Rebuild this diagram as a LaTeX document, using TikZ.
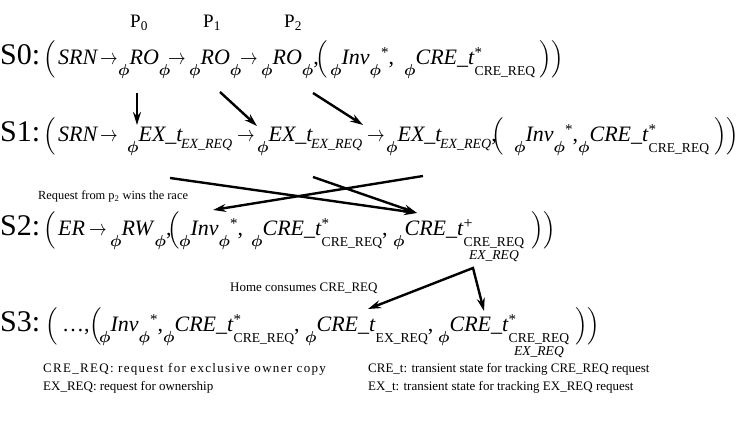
\documentclass[tikz,border=0pt]{standalone}
\usepackage{fix-cm}
\usepackage{amsmath}
\usepackage{amsbsy}
\usepackage{graphicx}
\usepackage{fontspec}
\setmainfont{Liberation Serif}
\newfontfamily\spreadfont[LetterSpace=10]{Liberation Serif}
\usetikzlibrary{arrows.meta}

% lowered phi, raised star, subscripts
\newcommand{\dph}{\raisebox{-11pt}{\fontsize{16}{16}\selectfont$\boldsymbol{\phi}$}}
\newcommand{\sstar}{\raisebox{7pt}{\fontsize{15}{15}\selectfont *}}
\newcommand{\ssub}[1]{\raisebox{-11pt}{\fontsize{13.6}{15}\selectfont #1}}
\newcommand{\isub}[1]{\kern-2pt\raisebox{-7pt}{\fontsize{14}{15}\selectfont\itshape #1}}
\newcommand{\dsub}[2]{\raisebox{-11pt}{\fontsize{13.6}{13}\selectfont\begin{tabular}[t]{@{}c@{}}#1\\ \itshape #2\end{tabular}}}
\newcommand{\tto}{\scalebox{0.8}[1]{$\rightarrow$}}
\newcommand{\bopen}{\raisebox{0pt}[24pt][12pt]{$\nulldelimiterspace=0pt\left(\vrule height 21pt depth 13pt width 0pt\right.$}}
\newcommand{\bclose}{\raisebox{0pt}[24pt][12pt]{$\nulldelimiterspace=0pt\left.\vrule height 21pt depth 13pt width 0pt\right)$}}

\tikzset{
  stlbl/.style={anchor=base west, inner sep=0pt, font=\fontsize{30}{34}\selectfont},
  term/.style={anchor=base west, inner sep=0pt, font=\fontsize{22}{26}\selectfont},
  plbl/.style={anchor=base west, inner sep=0pt, font=\fontsize{19}{22}\selectfont},
  note/.style={anchor=base west, inner sep=0pt, font=\fontsize{13}{15}\selectfont},
  trans/.style={line width=2.4pt, -{Stealth[length=13pt,width=8pt]}}
}

\begin{document}
\begin{tikzpicture}[x=1pt,y=-1pt]
  \useasboundingbox (0,0) rectangle (740,427);

  % processors
  \node[plbl] (p0) at (130,28) {P\textsubscript{0}};
  \node[plbl] (p1) at (203,28) {P\textsubscript{1}};
  \node[plbl] (p2) at (284,28) {P\textsubscript{2}};

  % S0
  \node[stlbl] (s0) at (0,65) {S0:};
  \node[term] (s0o) at (43,65) {\bopen};
  \node[term] (s0h) at (58,65) {\textit{SRN}};
  \node[term] (a00) at (100,65) {\tto};
  \node[term] (ro0) at (118,65) {\dph\textit{RO}\dph};
  \node[term] (a01) at (168,65) {\tto};
  \node[term] (ro1) at (189,65) {\dph\textit{RO}\dph};
  \node[term] (a02) at (240,65) {\tto};
  \node[term] (ro2) at (261,65) {\dph\textit{RO}\dph,};
  \node[term] (s0p) at (315,65) {\bopen};
  \node[term] (inv0) at (330,65) {\dph\textit{Inv}\dph\sstar,};
  \node[term] (cre0) at (404,65) {\dph\textit{CRE\_t}\rlap{\sstar}\ssub{CRE\_REQ}};
  \node[term] (s0c) at (539,65) {\bclose\bclose};

  % S1
  \node[stlbl] (s1) at (0,142) {S1:};
  \node[term] (s1o) at (43,142) {\bopen};
  \node[term] (s1h) at (58,142) {\textit{SRN}};
  \node[term] (a10) at (100,142) {\tto};
  \node[term] (ex1) at (127,142) {\dph\textit{EX\_t}\isub{EX\_REQ}};
  \node[term] (a11) at (237,142) {\tto};
  \node[term] (ex2) at (257,142) {\dph\textit{EX\_t}\isub{EX\_REQ}};
  \node[term] (a12) at (367,142) {\tto};
  \node[term] (ex3) at (386,142) {\dph\textit{EX\_t}\isub{EX\_REQ},};
  \node[term] (s1p) at (491,142) {\bopen};
  \node[term] (inv1) at (514,142) {\dph\textit{Inv}\dph\sstar,};
  \node[term] (cre1) at (578,142) {\dph\textit{CRE\_t}\rlap{\sstar}\ssub{CRE\_REQ}};
  \node[term] (s1c) at (714,142) {\bclose\bclose};

  % S0 -> S1
  \draw[trans] ([xshift=19pt,yshift=-28pt]ro0.base west) -- ([xshift=10pt,yshift=17pt]ex1.base west);
  \draw[trans] ([xshift=31pt,yshift=-27pt]ro1.base west) -- ([xshift=0pt,yshift=16pt]ex2.base west);
  \draw[trans] ([xshift=52pt,yshift=-28pt]ro2.base west) -- ([xshift=-23pt,yshift=17pt]ex3.base west);

  \node[note, font=\fontsize{12.4}{14}\selectfont] (race) at (38,200) {Request from p\textsubscript{2} wins the race};

  % S2
  \node[stlbl] (s2) at (0,236) {S2:};
  \node[term] (s2o) at (43,236) {\bopen};
  \node[term] (s2h) at (58,236) {\textit{ER}};
  \node[term] (a20) at (89,236) {\tto};
  \node[term] (rw2) at (110,236) {\dph\textit{RW}\dph,};
  \node[term] (s2p) at (167,236) {\bopen};
  \node[term] (inv2) at (179,236) {\dph\textit{Inv}\dph\sstar,};
  \node[term] (cre2a) at (251,236) {\dph\textit{CRE\_t}\rlap{\sstar}\ssub{CRE\_REQ},};
  \node[term] (cre2b) at (393,236) {\dph\textit{CRE\_t}\rlap{\raisebox{7pt}{\fontsize{16}{16}\selectfont +}}\dsub{CRE\_REQ}{EX\_REQ}};
  \node[term] (s2c) at (531,236) {\bclose\bclose};

  % S1 -> S2, the race
  \draw[trans] ([xshift=43pt,yshift=-36pt]ex1.base west) -- ([xshift=24pt,yshift=23pt]cre2b.base west);
  \draw[trans] ([xshift=56pt,yshift=-35pt]ex2.base west) -- ([xshift=24pt,yshift=23pt]cre2b.base west);
  \draw[trans] ([xshift=37pt,yshift=-34pt]ex3.base west) -- ([xshift=34pt,yshift=26pt]inv2.base west);

  \node[note] (home) at (230,292) {Home consumes CRE\_REQ};

  % S3
  \node[stlbl] (s3) at (0,332) {S3:};
  \node[term] (s3o) at (45,332) {\bopen};
  \node[term] (s3h) at (62,332) {\ldots,};
  \node[term] (s3p) at (89,332) {\bopen};
  \node[term] (inv3) at (99,332) {\dph\textit{Inv}\dph\sstar,};
  \node[term] (cre3a) at (163,332) {\dph\textit{CRE\_t}\rlap{\sstar}\ssub{CRE\_REQ},};
  \node[term] (cre3b) at (305,332) {\dph\textit{CRE\_t}\ssub{EX\_REQ},};
  \node[term] (cre3c) at (438,332) {\dph\textit{CRE\_t}\rlap{\sstar}\dsub{CRE\_REQ}{EX\_REQ}};
  \node[term] (s3c) at (575,332) {\bclose\bclose};

  % S2 -> S3
  \draw[line width=2.4pt, {Stealth[length=13pt,width=8pt]}-{Stealth[length=13pt,width=8pt]}]
    ([xshift=63pt,yshift=23pt]cre3b.base west) -- ([xshift=80pt,yshift=-32pt]cre2b.base west)
    -- ([xshift=46pt,yshift=21pt]cre3c.base west);

  % legend
  \node[note, font=\fontsize{13}{15}\spreadfont] (lg1) at (43,373) {CRE\_REQ: request for exclusive owner copy};
  \node[note] (lg2) at (43,391) {EX\_REQ: request for ownership};
  \node[note] (lg3) at (368,373) {CRE\_t: transient state for tracking CRE\_REQ request};
  \node[note] (lg4) at (368,391) {EX\_t: transient state for tracking EX\_REQ request};
\end{tikzpicture}
\end{document}
